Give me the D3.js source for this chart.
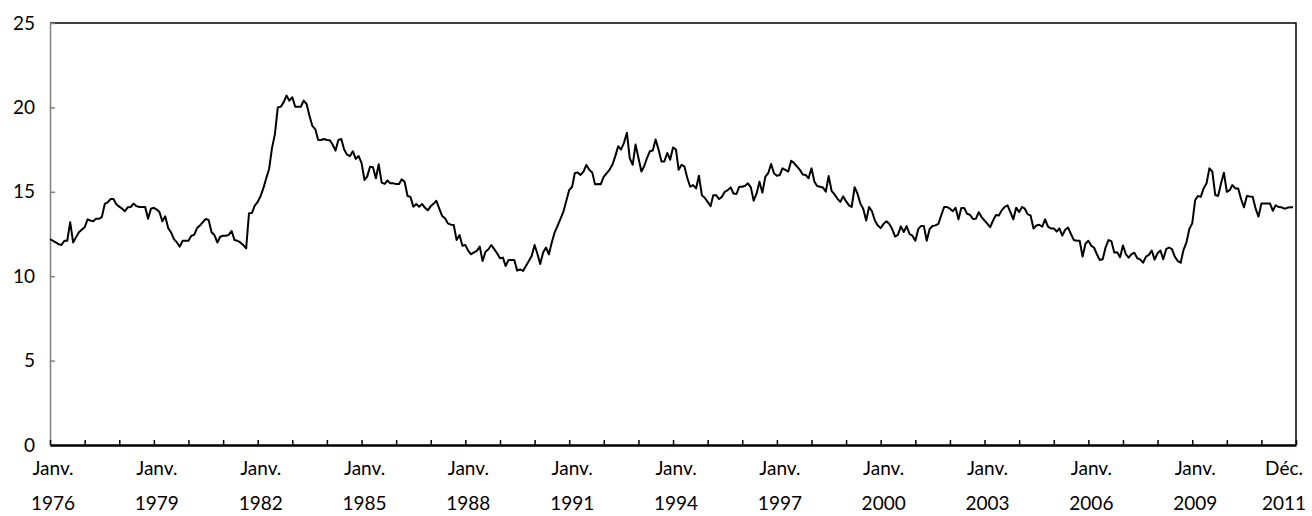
<!DOCTYPE html>
<html>
<head>
<meta charset="utf-8">
<script src="https://cdn.jsdelivr.net/npm/d3@7"></script>
<style>
  body { margin: 0; background: #fff; }
  svg text { font-family: Lato, "DejaVu Sans", sans-serif; font-size: 19px; fill: #000; }
</style>
</head>
<body>
<div id="chart"></div>
<script>
// monthly values, Jan 1976 -> Dec 2011 (one row per year)
const values = [
  12.2, 12.1, 12.0, 11.9, 11.85, 12.1, 12.1, 13.2, 12.0, 12.3, 12.6, 12.75,       // 1976
  12.9, 13.37, 13.3, 13.25, 13.4, 13.4, 13.5, 14.28, 14.38, 14.57, 14.57, 14.26,  // 1977
  14.12, 14.0, 13.85, 14.08, 14.1, 14.3, 14.15, 14.1, 14.1, 14.1, 13.4, 14.0,     // 1978
  14.05, 13.95, 13.8, 13.25, 13.55, 12.85, 12.6, 12.2, 12.0, 11.75, 12.1, 12.1,   // 1979
  12.1, 12.4, 12.45, 12.85, 13.0, 13.2, 13.39, 13.33, 12.6, 12.44, 12.0, 12.34,   // 1980
  12.4, 12.4, 12.45, 12.68, 12.14, 12.1, 12.0, 11.85, 11.65, 13.73, 13.75, 14.18, // 1981
  14.4, 14.75, 15.2, 15.8, 16.35, 17.6, 18.4, 20.0, 20.04, 20.3, 20.7, 20.4,      // 1982
  20.6, 20.04, 20.04, 20.04, 20.4, 20.2, 19.5, 18.9, 18.7, 18.07, 18.07, 18.13,   // 1983
  18.07, 18.05, 17.8, 17.44, 18.07, 18.13, 17.5, 17.2, 17.12, 17.4, 16.95, 17.12, // 1984
  16.7, 15.7, 15.9, 16.49, 16.45, 15.8, 16.63, 15.54, 15.47, 15.67, 15.5, 15.5,   // 1985
  15.46, 15.46, 15.74, 15.58, 14.75, 14.7, 14.12, 14.28, 14.12, 14.28, 14.05, 13.9, // 1986
  14.15, 14.3, 14.47, 14.0, 13.57, 13.43, 13.13, 13.05, 13.03, 12.14, 12.44, 11.8, // 1987
  11.85, 11.5, 11.3, 11.41, 11.5, 11.75, 10.9, 11.45, 11.6, 11.85, 11.6, 11.36,   // 1988
  11.06, 11.1, 10.6, 10.96, 10.96, 10.96, 10.33, 10.4, 10.31, 10.6, 10.9, 11.2,   // 1989
  11.85, 11.3, 10.72, 11.4, 11.7, 11.3, 12.0, 12.6, 13.0, 13.4, 13.82, 14.45,     // 1990
  15.1, 15.3, 16.1, 16.15, 16.0, 16.2, 16.59, 16.3, 16.15, 15.44, 15.46, 15.45,   // 1991
  15.9, 16.1, 16.3, 16.6, 17.1, 17.7, 17.5, 17.9, 18.5, 17.0, 16.6, 17.8,         // 1992
  17.0, 16.2, 16.5, 17.0, 17.4, 17.45, 18.1, 17.5, 16.8, 16.8, 17.3, 16.9,        // 1993
  17.63, 17.5, 16.3, 16.6, 16.5, 15.8, 15.3, 15.4, 15.2, 15.95, 14.8, 14.65,      // 1994
  14.4, 14.14, 14.8, 14.8, 14.57, 14.7, 15.0, 15.1, 15.26, 14.9, 14.87, 15.3,     // 1995
  15.3, 15.36, 15.5, 15.26, 14.47, 14.9, 15.6, 14.95, 15.9, 16.1, 16.65, 16.1,    // 1996
  15.95, 16.0, 16.39, 16.3, 16.2, 16.84, 16.7, 16.5, 16.3, 16.03, 16.0, 15.8,     // 1997
  16.39, 15.6, 15.34, 15.3, 15.26, 15.0, 15.93, 15.06, 14.85, 14.6, 14.4, 14.73,  // 1998
  14.43, 14.2, 14.1, 15.27, 14.9, 14.3, 14.0, 13.3, 14.1, 13.85, 13.3, 13.0,      // 1999
  12.85, 13.1, 13.25, 13.1, 12.8, 12.35, 12.45, 12.95, 12.62, 12.97, 12.5, 12.4,  // 2000
  12.1, 12.8, 12.97, 12.97, 12.1, 12.8, 12.97, 13.01, 13.1, 13.6, 14.1, 14.1,     // 2001
  14.0, 13.85, 14.05, 13.37, 14.04, 14.04, 13.7, 13.63, 13.39, 13.4, 13.79, 13.5, // 2002
  13.3, 13.1, 12.9, 13.3, 13.62, 13.6, 13.9, 14.1, 14.2, 13.8, 13.37, 14.06,      // 2003
  13.8, 14.1, 14.0, 13.66, 13.6, 12.83, 13.0, 13.05, 12.93, 13.37, 12.93, 12.83,  // 2004
  12.83, 12.64, 12.83, 12.4, 12.75, 12.88, 12.5, 12.14, 12.1, 12.1, 11.16, 11.92, // 2005
  12.1, 11.8, 11.7, 11.3, 10.96, 11.0, 11.7, 12.14, 12.07, 11.4, 11.42, 11.12,    // 2006
  11.82, 11.3, 11.1, 11.3, 11.39, 11.06, 11.0, 10.8, 11.16, 11.26, 11.52, 10.98,  // 2007
  11.36, 11.52, 11.0, 11.6, 11.7, 11.6, 11.16, 10.9, 10.8, 11.56, 12.0, 12.8,     // 2008
  13.13, 14.5, 14.75, 14.7, 15.2, 15.5, 16.39, 16.2, 14.81, 14.75, 15.5, 16.13,   // 2009
  15.0, 15.1, 15.4, 15.2, 15.2, 14.56, 14.08, 14.75, 14.72, 14.7, 14.0, 13.53,    // 2010
  14.31, 14.31, 14.31, 14.31, 13.88, 14.2, 14.1, 14.08, 14.0, 14.05, 14.08, 14.08 // 2011
];
const yTicks = [0, 5, 10, 15, 20, 25];
const labelMonths = ["Janv.", "Janv.", "Janv.", "Janv.", "Janv.", "Janv.", "Janv.", "Janv.", "Janv.", "Janv.", "Janv.", "Janv.", "Déc."];
const labelYears = ["1976", "1979", "1982", "1985", "1988", "1991", "1994", "1997", "2000", "2003", "2006", "2009", "2011"];

const w = 1312;
const h = 516;
const start = new Date(1976, 0, 1);
const end = new Date(2012, 0, 1);

const data = values.map((v, i) => ({ date: d3.timeMonth.offset(start, i), value: v }));

const svg = d3.select("#chart")
  .append("svg")
  .attr("width", w)
  .attr("height", h);

const x = d3.scaleTime().domain([start, end]).range([50, 1296]);
const y = d3.scaleLinear().domain([0, 25]).range([445, 23]);

// frame (top + right)
svg.append("path")
  .attr("d", `M${x.range()[0]},${y(25)}H${x.range()[1]}V${y(0)}`)
  .attr("fill", "none")
  .attr("stroke", "#000")
  .attr("stroke-width", 1.5);

// y axis, ticks pointing inside
const yAxis = svg.append("g")
  .attr("transform", `translate(${x.range()[0]},0)`)
  .call(d3.axisLeft(y).tickValues(yTicks).tickSize(-5).tickPadding(15).tickSizeOuter(0));
yAxis.selectAll("path, line").attr("stroke", "#808080").attr("stroke-width", 1.5);
yAxis.selectAll("text").attr("font-size", null).attr("font-family", null);

// x axis, yearly ticks pointing up, no labels
const xAxis = svg.append("g")
  .attr("transform", `translate(0,${y(0)})`)
  .call(d3.axisBottom(x).ticks(d3.timeYear.every(1)).tickSize(-5).tickSizeOuter(0).tickFormat(""));
xAxis.select(".domain").attr("stroke", "#000").attr("stroke-width", 2.5);
xAxis.selectAll("line").attr("stroke", "#000").attr("stroke-width", 1.5);

// custom two-line labels
const labelDates = labelYears.map((yr, i) =>
  i === labelYears.length - 1 ? new Date(+yr, 11, 1) : new Date(+yr, 0, 1));
const labels = svg.append("g")
  .selectAll("text")
  .data(labelYears)
  .enter()
  .append("text")
  .attr("text-anchor", "middle")
  .attr("transform", (d, i) => {
    const off = i === labelYears.length - 1 ? -9 : 3;
    return `translate(${x(labelDates[i]) + off},0)`;
  });
labels.append("tspan").attr("x", 0).attr("y", 475).text((d, i) => labelMonths[i]);
labels.append("tspan").attr("x", 0).attr("y", 510).text(d => d);

// the series
const line = d3.line()
  .x(d => x(d.date))
  .y(d => y(d.value));

svg.append("path")
  .datum(data)
  .attr("fill", "none")
  .attr("stroke", "#000")
  .attr("stroke-width", 2)
  .attr("stroke-linejoin", "round")
  .attr("d", line);
</script>
</body>
</html>
